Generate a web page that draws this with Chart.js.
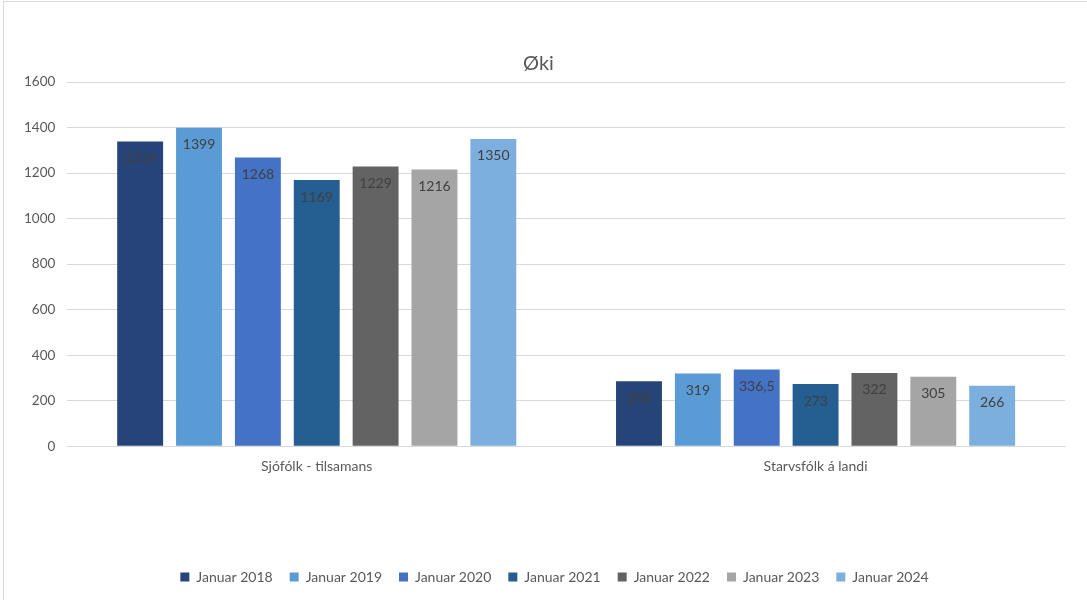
<!DOCTYPE html>
<html>
<head>
<meta charset="utf-8">
<script src="https://cdn.jsdelivr.net/npm/chart.js@4"></script>
<style>
  body { margin: 0; background: #fff; }
  #frame { position: absolute; left: 3px; top: 1px; width: 1100px; height: 620px;
           border-left: 1px solid #d9d9d9; border-top: 1px solid #d9d9d9; }
  #wrap { position: absolute; left: 0; top: 0; width: 1087px; height: 600px; }
</style>
</head>
<body>
<div id="frame"></div>
<div id="wrap"><canvas id="okiChart"></canvas></div>
<script>
// Categories and series
const categories = ['Sjófólk - tilsamans', 'Starvsfólk á landi'];
const seriesNames = ['Januar 2018', 'Januar 2019', 'Januar 2020', 'Januar 2021', 'Januar 2022', 'Januar 2023', 'Januar 2024'];
const jan2018 = [1339, 285];
const jan2019 = [1399, 319];
const jan2020 = [1268, 336.5];
const jan2021 = [1169, 273];
const jan2022 = [1229, 322];
const jan2023 = [1216, 305];
const jan2024 = [1350, 266];
const yTicks = [0, 200, 400, 600, 800, 1000, 1200, 1400, 1600];

const seriesValues = [jan2018, jan2019, jan2020, jan2021, jan2022, jan2023, jan2024];
const colors = ['#264478', '#5B9BD5', '#4472C4', '#255E91', '#636363', '#A5A5A5', '#7CAFDD'];

// Value labels inside the top of each bar
const barLabels = {
    id: 'barLabels',
    afterLayout(chart) {
        // legend sits a little right of centre in the original
        chart.legend.left += 16;
        chart.legend.right += 16;
    },
    afterDatasetsDraw(chart) {
        const ctx = chart.ctx;
        ctx.save();
        ctx.font = '14px Lato, "Open Sans", sans-serif';
        ctx.fillStyle = '#404040';
        ctx.textAlign = 'center';
        ctx.textBaseline = 'middle';
        chart.data.datasets.forEach((ds, i) => {
            chart.getDatasetMeta(i).data.forEach((bar, j) => {
                const v = ds.data[j];
                ctx.fillText(String(v).replace('.', ','), bar.x, bar.y + 17);
            });
        });
        ctx.restore();
    }
};

const ctx = document.getElementById('okiChart').getContext('2d');
new Chart(ctx, {
    type: 'bar',
    data: {
        labels: categories,
        datasets: seriesNames.map((name, i) => ({
            label: name,
            data: seriesValues[i],
            backgroundColor: colors[i],
            categoryPercentage: 0.826,
            barPercentage: 0.78
        }))
    },
    options: {
        responsive: true,
        maintainAspectRatio: false,
        animation: false,
        layout: { padding: { left: 12, right: 22, top: 8, bottom: 6 } },
        plugins: {
            title: {
                display: true,
                text: 'Øki',
                color: '#595959',
                font: { family: 'Lato, "Open Sans", sans-serif', size: 20, weight: 'normal' },
                padding: { top: 44, bottom: 6 }
            },
            legend: {
                position: 'bottom',
                labels: {
                    color: '#595959',
                    font: { family: 'Lato, "Open Sans", sans-serif', size: 14 },
                    boxWidth: 9,
                    boxHeight: 9,
                    padding: 17
                }
            },
            tooltip: { enabled: false }
        },
        scales: {
            x: {
                grid: { display: false },
                border: { color: '#d9d9d9' },
                ticks: {
                    color: '#595959',
                    font: { family: 'Lato, "Open Sans", sans-serif', size: 14 },
                    padding: 4
                },
                afterFit: scale => { scale.height += 74; }
            },
            y: {
                min: 0,
                max: 1600,
                afterBuildTicks: scale => { scale.ticks = yTicks.map(v => ({ value: v })); },
                grid: { color: '#d9d9d9', drawTicks: false },
                border: { display: false },
                ticks: {
                    color: '#595959',
                    font: { family: 'Lato, "Open Sans", sans-serif', size: 13.5 },
                    padding: 12,
                    callback: v => String(v)
                }
            }
        }
    },
    plugins: [barLabels]
});
</script>
</body>
</html>
